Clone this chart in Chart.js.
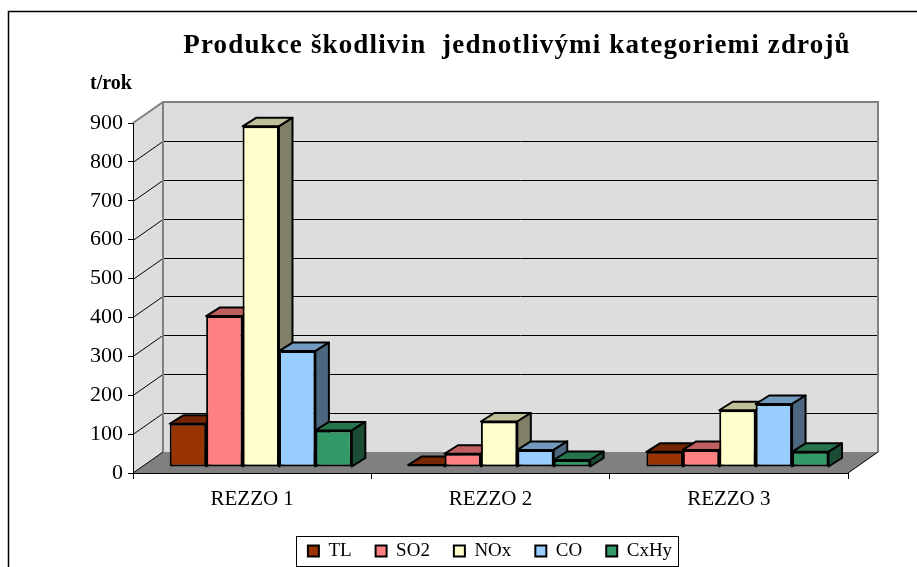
<!DOCTYPE html>
<html>
<head>
<meta charset="utf-8">
<script src="https://cdn.jsdelivr.net/npm/chart.js@4.4.0/dist/chart.umd.min.js"></script>
<style>
  html, body { margin: 0; padding: 0; background: #fff; overflow: hidden; }
  #obal { position: relative; width: 917px; height: 600px; }
</style>
</head>
<body>
<div id="obal"><canvas id="grafico"></canvas></div>
<script>
const kategorie = ['REZZO 1', 'REZZO 2', 'REZZO 3'];
const tl   = [111, 5, 39];
const so2  = [388, 34, 44];
const nox  = [876, 117, 146];
const co   = [298, 44, 162];
const cxhy = [94, 18, 39];
const nazvy = ['TL', 'SO2', 'NOx', 'CO', 'CxHy'];
const barvy = ['#993300', '#FF8080', '#FFFFCC', '#99CCFF', '#339966'];
const hodnoty = [tl, so2, nox, co, cxhy];

const PISMO = "'Liberation Serif', 'Times New Roman', serif";
const HLOUBKA = { dx: 30, dy: -21 };   // hloubka steny
const POSUN = { dx: 8.6, dy: -6 };     // kde stoji sloupce
const HRANA = { dx: 13.5, dy: -8.5 };  // hloubka sloupce

function ztmavit(hex, k) {
  const n = parseInt(hex.slice(1), 16);
  const r = Math.round(((n >> 16) & 255) * k);
  const g = Math.round(((n >> 8) & 255) * k);
  const b = Math.round((n & 255) * k);
  return 'rgb(' + r + ',' + g + ',' + b + ')';
}

const prostor3d = {
  id: 'prostor3d',
  afterLayout(chart) {
    // titulek neni v originale uprostred a je prostrkany
    const t = chart.titleBlock;
    t.left += 27;
    t.right += 27;
    if (!t._prostrkany) {
      const puvodni = t.draw;
      t.draw = function () {
        this.ctx.save();
        this.ctx.letterSpacing = '1.15px';
        puvodni.call(this);
        this.ctx.restore();
      };
      t._prostrkany = true;
    }
    // popisky osy y se orezavaji na sirku osy
    const y = chart.scales.y;
    y.left = 40;
    y.width = y.right - y.left;
  },
  beforeDraw(chart) {
    const ctx = chart.ctx;
    const { left, right, top, bottom } = chart.chartArea;
    const y = chart.scales.y;
    const dx = HLOUBKA.dx, dy = HLOUBKA.dy;
    ctx.save();
    // bocni stena
    ctx.fillStyle = '#DDDDDD';
    ctx.beginPath();
    ctx.moveTo(left, bottom); ctx.lineTo(left, top);
    ctx.lineTo(left + dx, top + dy); ctx.lineTo(left + dx, bottom + dy);
    ctx.closePath(); ctx.fill();
    // zadni stena
    ctx.fillRect(left + dx, top + dy, right - left, bottom - top);
    // podlaha
    ctx.fillStyle = '#808080';
    ctx.beginPath();
    ctx.moveTo(left, bottom); ctx.lineTo(right, bottom);
    ctx.lineTo(right + dx, bottom + dy); ctx.lineTo(left + dx, bottom + dy);
    ctx.closePath(); ctx.fill();

    // mrizka
    ctx.strokeStyle = '#000';
    ctx.lineWidth = 1;
    y.ticks.forEach(t => {
      if (t.value <= 0 || t.value >= y.max) return;
      const yy = Math.round(y.getPixelForValue(t.value)) + 0.5;
      ctx.beginPath();
      ctx.moveTo(left, yy);
      ctx.lineTo(left + dx, yy + dy);
      ctx.lineTo(right + dx, yy + dy);
      ctx.stroke();
    });
    // hrany podlahy
    ctx.beginPath();
    ctx.moveTo(left, bottom); ctx.lineTo(left + dx, bottom + dy);
    ctx.moveTo(right, bottom); ctx.lineTo(right + dx, bottom + dy);
    ctx.stroke();

    // okraje sten
    ctx.strokeStyle = '#808080';
    ctx.lineWidth = 2;
    ctx.beginPath();
    ctx.moveTo(left, top); ctx.lineTo(left + dx, top + dy);
    ctx.lineTo(right + dx, top + dy); ctx.lineTo(right + dx, bottom + dy);
    ctx.moveTo(left + dx, top + dy); ctx.lineTo(left + dx, bottom + dy);
    ctx.stroke();
    ctx.restore();
  },
  beforeDatasetsDraw(chart) {
    const ctx = chart.ctx;
    const metas = hodnoty.map((_, d) => chart.getDatasetMeta(d));
    for (let i = 0; i < kategorie.length; i++) {
      metas.forEach((meta, d) => {
        const el = meta.data[i];
        if (!el) return;
        ctx.save();
        ctx.translate(POSUN.dx, POSUN.dy);
        el.draw(ctx);
        const { x, y, base, width } = el.getProps(['x', 'y', 'base', 'width'], true);
        const l = x - width / 2, r = x + width / 2;
        ctx.lineWidth = 2;
        ctx.lineJoin = 'round';
        ctx.strokeStyle = '#000';
        // vrch
        ctx.fillStyle = ztmavit(barvy[d], 0.75);
        ctx.beginPath();
        ctx.moveTo(l, y); ctx.lineTo(r, y);
        ctx.lineTo(r + HRANA.dx, y + HRANA.dy); ctx.lineTo(l + HRANA.dx, y + HRANA.dy);
        ctx.closePath(); ctx.fill(); ctx.stroke();
        // bok
        ctx.fillStyle = ztmavit(barvy[d], 0.5);
        ctx.beginPath();
        ctx.moveTo(r, y); ctx.lineTo(r + HRANA.dx, y + HRANA.dy);
        ctx.lineTo(r + HRANA.dx, base + HRANA.dy); ctx.lineTo(r, base);
        ctx.closePath(); ctx.fill(); ctx.stroke();
        ctx.restore();
      });
    }
    return false;
  },
  afterDraw(chart) {
    const ctx = chart.ctx;
    ctx.save();
    // ramecek grafu
    ctx.strokeStyle = '#000';
    ctx.lineWidth = 1.5;
    ctx.strokeRect(8.5, 11.5, 1200, 1200);
    // jednotka
    ctx.fillStyle = '#000';
    ctx.font = 'bold 20px ' + PISMO;
    ctx.textBaseline = 'alphabetic';
    ctx.fillText('t/rok', 90, 89);
    // ramecek legendy
    const hb = chart.legend.legendHitBoxes;
    if (hb && hb.length) {
      const a = hb[0], b = hb[hb.length - 1];
      const x0 = Math.round(a.left - 12) + 0.5;
      const x1 = Math.round(b.left + b.width + 6) + 0.5;
      const y0 = Math.round(a.top - 5.5) + 0.5;
      const y1 = Math.round(a.top + a.height + 5.5) + 0.5;
      ctx.lineWidth = 1;
      ctx.strokeRect(x0, y0, x1 - x0, y1 - y0);
    }
    ctx.restore();
  }
};

new Chart(document.getElementById('grafico'), {
  type: 'bar',
  data: {
    labels: kategorie,
    datasets: hodnoty.map((data, d) => ({
      label: nazvy[d],
      data: data,
      backgroundColor: barvy[d],
      borderColor: '#000',
      borderWidth: 2,
      borderSkipped: false,
      categoryPercentage: 0.764,
      barPercentage: 1
    }))
  },
  options: {
    responsive: true,
    maintainAspectRatio: false,
    animation: false,
    devicePixelRatio: 1,
    layout: { padding: { left: 132, right: 69, top: 0, bottom: 29.5 } },
    scales: {
      x: {
        offset: true,
        grid: { offset: true, drawOnChartArea: false, drawTicks: true, tickLength: 6, color: '#000' },
        border: { display: true, color: '#000', width: 1 },
        ticks: { color: '#000', padding: 8, font: { family: PISMO, size: 21 } },
        afterFit(scale) { scale.height = 44.5; }
      },
      y: {
        min: 0,
        max: 900,
        ticks: { stepSize: 100, color: '#000', padding: 5, font: { family: PISMO, size: 22 } },
        grid: { drawOnChartArea: false, drawTicks: true, tickLength: 5, color: '#000' },
        border: { display: true, color: '#000', width: 1 },
        afterFit(scale) { scale.width = 1; }
      }
    },
    plugins: {
      title: {
        display: true,
        text: 'Produkce škodlivin  jednotlivými kategoriemi zdrojů',
        color: '#000',
        font: { family: PISMO, size: 27, weight: 'bold', lineHeight: 1.2 },
        padding: { top: 29.5, bottom: 61.1 }
      },
      legend: {
        position: 'bottom',
        labels: {
          boxWidth: 11,
          boxHeight: 11,
          padding: 24,
          color: '#000',
          font: { family: PISMO, size: 19 }
        }
      },
      tooltip: { enabled: false }
    }
  },
  plugins: [prostor3d]
});
</script>
</body>
</html>
